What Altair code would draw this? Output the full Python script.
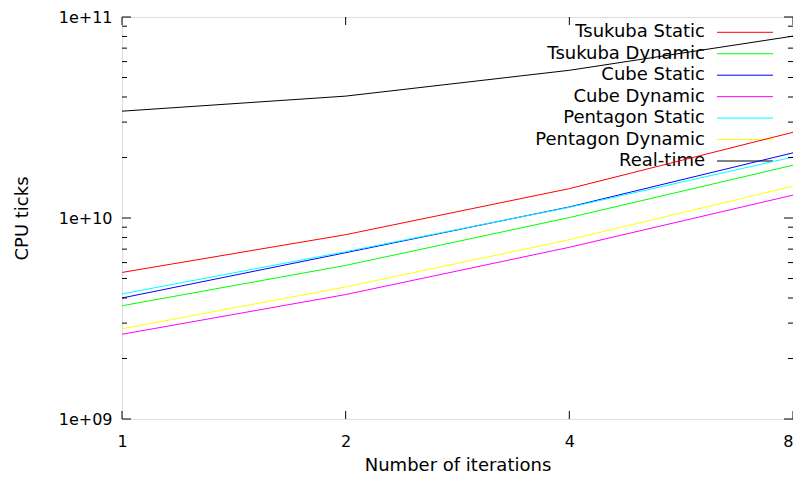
import altair as alt
import pandas as pd

# ---- data ----
iterations = [1, 2, 4, 8]
series_names = ["Tsukuba Static", "Tsukuba Dynamic", "Cube Static", "Cube Dynamic",
                "Pentagon Static", "Pentagon Dynamic", "Real-time"]
series_colors = ["#ff0000", "#00ff00", "#0000ff", "#ff00ff", "#00ffff", "#ffff00", "#000000"]

tsukuba_static = [5.36e9, 8.26e9, 1.40e10, 2.67e10]
tsukuba_dynamic = [3.66e9, 5.81e9, 1.005e10, 1.83e10]
cube_static = [4.00e9, 6.72e9, 1.135e10, 2.11e10]
cube_dynamic = [2.64e9, 4.16e9, 7.15e9, 1.30e10]
pentagon_static = [4.19e9, 6.80e9, 1.13e10, 2.01e10]
pentagon_dynamic = [2.81e9, 4.54e9, 7.80e9, 1.44e10]
real_time = [3.40e10, 4.04e10, 5.43e10, 8.03e10]

x_tick_values = [1, 2, 4, 8]
y_major_ticks = [1e9, 1e10, 1e11]
y_minor_ticks = [2e9, 3e9, 4e9, 5e9, 6e9, 7e9, 8e9, 9e9,
                 2e10, 3e10, 4e10, 5e10, 6e10, 7e10, 8e10, 9e10]

all_series = [tsukuba_static, tsukuba_dynamic, cube_static, cube_dynamic,
              pentagon_static, pentagon_dynamic, real_time]

rows = []
for name, vals in zip(series_names, all_series):
    for it, v in zip(iterations, vals):
        rows.append({"series": name, "iterations": it, "ticks": v})
df = pd.DataFrame(rows)

W, H = 671, 402
PAD_L, PAD_T = 114, 9
FONT = "DejaVu Sans"

xscale = alt.Scale(type="log", base=2, domain=[1, 8], nice=False)
yscale = alt.Scale(type="log", domain=[1e9, 1e11], nice=False)
cscale = alt.Scale(domain=series_names, range=series_colors)

lines = alt.Chart(df).mark_line(strokeWidth=1).encode(
    x=alt.X("iterations:Q", scale=xscale,
            axis=alt.Axis(values=x_tick_values, format="d", ticks=False, domain=False,
                          grid=False, tickSize=0, labelFontSize=16, labelPadding=27,
                          labelBaseline="alphabetic", labelColor="black",
                          labelAlign=alt.expr("datum.value == 8 ? 'right' : 'center'"),
                          labelFont=FONT, title="Number of iterations",
                          titleFont=FONT, titleFontSize=18, titleFontWeight="normal",
                          titleColor="black", titleX=W / 2, titleY=51,
                          titleBaseline="alphabetic", labelFlush=False)),
    y=alt.Y("ticks:Q", scale=yscale,
            axis=alt.Axis(values=y_major_ticks, ticks=False, domain=False, grid=False,
                          tickSize=0, labelPadding=10, labelFontSize=16, labelFont=FONT,
                          labelColor="black", labelFlush=False,
                          labelExpr="datum.value < 5e9 ? '1e+09' : (datum.value < 5e10 ? '1e+10' : '1e+11')",
                          title="CPU ticks", titleFont=FONT, titleFontSize=18,
                          titleFontWeight="normal", titleColor="black",
                          titleX=27 - (PAD_L + 8), titleY=H / 2, titleBaseline="alphabetic",
                          titleAngle=270, titleAlign="center")),
    color=alt.Color("series:N", scale=cscale, legend=None),
)

ymaj_df = pd.DataFrame({"ticks": y_major_ticks})
ymin_df = pd.DataFrame({"ticks": y_minor_ticks})
x_df = pd.DataFrame({"iterations": x_tick_values})

def ytick(data, x0, x1):
    return alt.Chart(data).mark_rule(color="black", strokeWidth=1).encode(
        y=alt.Y("ticks:Q", scale=yscale), x=alt.value(x0), x2=alt.value(x1))

def xtick(data, y0, y1):
    return alt.Chart(data).mark_rule(color="black", strokeWidth=1).encode(
        x=alt.X("iterations:Q", scale=xscale), y=alt.value(y0), y2=alt.value(y1))

main = alt.layer(
    lines,
    ytick(ymaj_df, 0, 9), ytick(ymaj_df, W - 9, W),
    ytick(ymin_df, 0, 5), ytick(ymin_df, W - 5, W),
    xtick(x_df, H - 8, H), xtick(x_df, 0, 8),
)

# legend (gnuplot style: right-aligned text, sample line to the right)
top_abs = PAD_T + 8
left_abs = PAD_L + 8
leg_df = pd.DataFrame({"series": series_names})
leg_y = alt.Y("series:N", sort=series_names,
              scale=alt.Scale(type="point", domain=series_names,
                              range=[32.3 - top_abs, 161 - top_abs], padding=0),
              axis=None)
leg_text = alt.Chart(leg_df).mark_text(align="right", baseline="middle", fontSize=18,
                                       font=FONT, color="black").encode(
    y=leg_y, x=alt.value(705 - left_abs), text="series:N")
leg_rule = alt.Chart(leg_df).mark_rule(strokeWidth=1).encode(
    y=leg_y, x=alt.value(717 - left_abs), x2=alt.value(773 - left_abs),
    color=alt.Color("series:N", scale=cscale, legend=None))
legend = alt.layer(leg_text, leg_rule)

chart = alt.layer(legend, main).resolve_scale(y="independent").properties(
    width=W, height=H,
    autosize=alt.AutoSizeParams(type="none"),
    padding={"left": PAD_L, "top": PAD_T, "right": 785 - PAD_L - W, "bottom": 467 - PAD_T - H},
    background="white",
).configure_view(stroke="black", strokeWidth=1).configure(font=FONT)

chart.save("out.html", embed_options={"renderer": "svg", "actions": False})
